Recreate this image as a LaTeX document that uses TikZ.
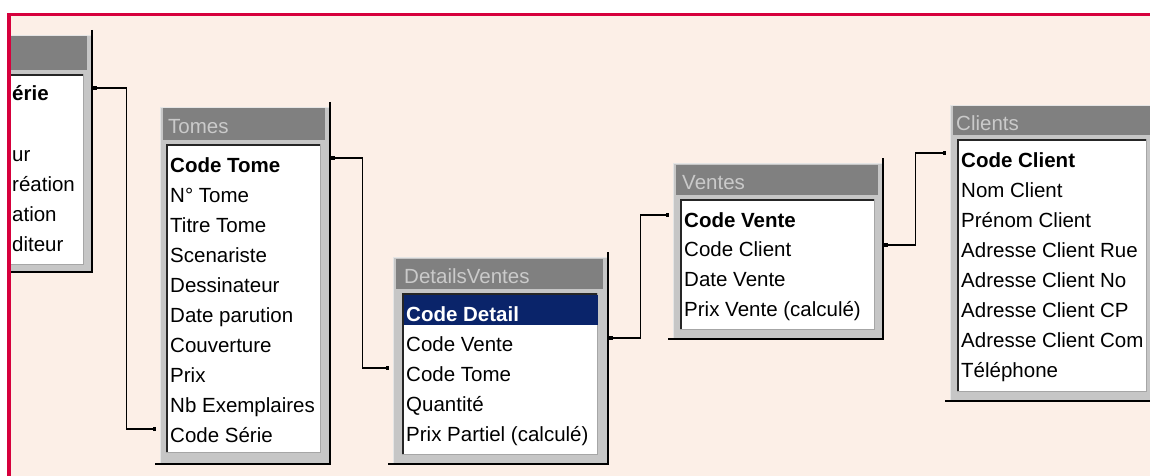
\documentclass[tikz,border=0pt]{standalone}
\usepackage{fontspec}
\setmainfont{Liberation Sans}
\usetikzlibrary{arrows.meta}
\definecolor{bgpeach}{HTML}{FCEFE7}
\definecolor{redb}{HTML}{D6003C}
\definecolor{framegray}{HTML}{C6C6C6}
\definecolor{titlegray}{HTML}{808080}
\definecolor{titletext}{HTML}{CACACA}
\definecolor{navy}{HTML}{0A246A}
\tikzset{
  conn/.style={line width=1.5pt, black, shorten >=4pt,
    {Square[length=3.5pt,width=4.5pt]}-{Square[length=3.5pt,width=4.5pt]}},
  fld/.style={anchor=base west, inner sep=0pt, font=\fontsize{20.5}{24}\selectfont},
  keyfld/.style={fld, font=\fontsize{20.5}{24}\selectfont\bfseries},
  ttl/.style={anchor=base west, inner sep=0pt, text=titletext, font=\fontsize{20.5}{24}\selectfont},
  tframe/.style={fill=framegray, draw=none, inner sep=0pt, anchor=north west},
}
\newcommand\dbtab[9]{%
  \pgfmathsetmacro\tabw{#4-#2}\pgfmathsetmacro\tabh{#5-#3}%
  \node[tframe, minimum width=\tabw pt, minimum height=\tabh pt] (#1) at (#2,#3) {};
  \draw[white!55!framegray, line width=1pt] (#2+0.5,#5-1) -- (#2+0.5,#3+0.5) -- (#4-1,#3+0.5);
  \fill[titlegray] (#2+3,#3+1.5) rectangle (#4-6,#6);
  \fill[white] (#7,#6+4) rectangle (#8,#9);
  \draw[black!85, line width=2pt] (#7+1,#9) -- (#7+1,#6+5) -- (#8,#6+5);
  \draw[black!35, line width=1.5pt] (#7,#9-0.75) -- (#8-0.75,#9-0.75) -- (#8-0.75,#6+4);
  \draw[black, line width=2.5pt] (#4-1.25,#3-5) -- (#4-1.25,#5-1.25) -- (#2-5,#5-1.25);
}
\begin{document}
\begin{tikzpicture}[x=1pt,y=-1pt]
\useasboundingbox (0,0) rectangle (1150,476);
\clip (0,0) rectangle (1150,476);
\fill[white] (0,0) rectangle (1150,476);
\fill[bgpeach] (8,13) rectangle (1150,476);

% Series table (cut at the left border)
\begin{scope}
\clip (10,0) rectangle (1150,476);
\dbtab{serie}{-80}{35}{93}{273}{70}{-70}{84}{265}
\node[keyfld] (s0) at (12,101) {érie};
\node[fld] (s2) at (12,161) {ur};
\node[fld] (s3) at (12,191) {réation};
\node[fld] (s4) at (12,221) {ation};
\node[fld] (s5) at (12,251) {diteur};
\end{scope}

% Tomes
\dbtab{tomes}{160}{107}{331}{465}{140}{166}{321}{453}
\node[ttl] (tt) at (168,133) {Tomes};
\node[keyfld] (t0) at (170,172) {Code Tome};
\foreach \txt [count=\i] in {N° Tome,Titre Tome,Scenariste,Dessinateur,Date parution,Couverture,Prix,Nb Exemplaires,Code Série}
  \node[fld] (t\i) at (170,{172+30*\i}) {\txt};

% DetailsVentes
\dbtab{dv}{393}{257}{609}{465}{289}{402}{598}{455}
\node[ttl] (dvt) at (404,283) {DetailsVentes};
\fill[navy] (404,295) rectangle (598,325);
\node[keyfld, text=white] (d0) at (406,321) {Code Detail};
\foreach \txt [count=\i] in {Code Vente,Code Tome,Quantité,Prix Partiel (calculé)}
  \node[fld] (d\i) at (406,{321+30*\i}) {\txt};

% Ventes
\dbtab{ventes}{673}{163}{884}{340}{195}{680}{875}{330}
\node[ttl] (vt) at (682,189) {Ventes};
\node[keyfld] (v0) at (684,227) {Code Vente};
\foreach \txt [count=\i] in {Code Client,Date Vente,Prix Vente (calculé)}
  \node[fld] (v\i) at (684,{227+29.8*\i}) {\txt};

% Clients
\dbtab{clients}{950}{105}{1158}{402}{135}{957}{1147}{392}
\node[ttl] (ct) at (956,130) {Clients};
\node[keyfld] (c0) at (961,167) {Code Client};
\foreach \txt [count=\i] in {Nom Client,Prénom Client,Adresse Client Rue,Adresse Client No,Adresse Client CP,Adresse Client Com,Téléphone}
  \node[fld] (c\i) at (961,{167+30*\i}) {\txt};

% connectors
\draw[conn] (serie.east |- 0,88) -- ++(33,0) |- (tomes.west |- 0,429);
\draw[conn] (tomes.east |- 0,158) -- ++(31,0) |- (dv.west |- 0,368);
\draw[conn] (dv.east |- 0,338) -- ++(31,0) |- (ventes.west |- 0,215);
\draw[conn] (ventes.east |- 0,245) -- ++(31,0) |- (clients.west |- 0,153);

% red border
\fill[redb] (7,13) rectangle (1150,16.5);
\fill[redb] (7,13) rectangle (10.5,476);
\end{tikzpicture}
\end{document}
